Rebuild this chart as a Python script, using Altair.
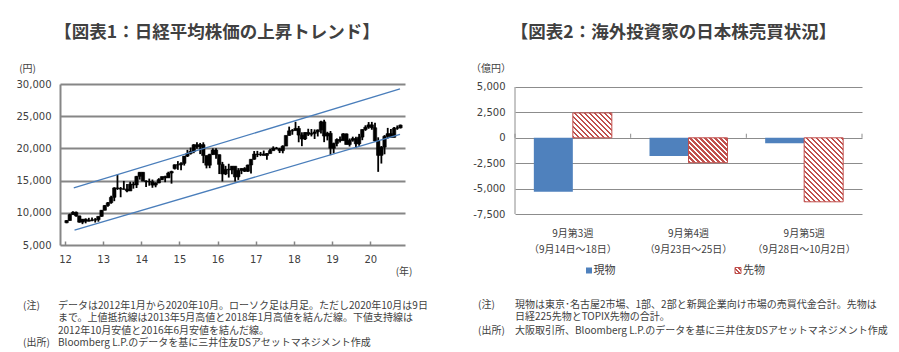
import math
import altair as alt
import pandas as pd

# ---------------- Chart 1: Nikkei 225 monthly candles (Jan 2012 - Oct 2020) ----------------
opens = [
    8455, 8803, 9723, 10084, 9521, 8543, 9007, 8695, 8840, 8870, 8928, 9446,
    10395, 11139, 11559, 12398, 13861, 13775, 13677, 13668, 13389, 14456, 14328, 15662,
    16291, 14915, 14841, 14828, 14304, 14632, 15162, 15621, 15425, 16174, 16860, 17460,
    17451, 17674, 18798, 19207, 19520, 20563, 20236, 20585, 18890, 17388, 19083, 19747,
    19034, 17518, 16027, 16759, 16666, 17235, 15576, 16569, 16887, 16450, 17425, 18308,
    19114, 19041, 19119, 18909, 19197, 19651, 20033, 19925, 19646, 20356, 22012, 22725,
    22765, 23098, 22068, 21454, 22468, 22202, 22305, 22554, 22865, 24120, 21920, 22351,
    20015, 20773, 21385, 21206, 22259, 20601, 21276, 21522, 20704, 21756, 22927, 23294,
    23657, 23205, 21143, 18917, 20194, 21878, 22288, 21710, 23140, 23185,
]
highs = [
    8860, 9866, 10255, 10190, 9536, 9034, 9136, 9222, 9288, 9180, 9460, 10433,
    11191, 11662, 12650, 13964, 15942, 14000, 14953, 14466, 14817, 14799, 15727, 16320,
    16321, 15060, 15312, 15164, 14740, 15376, 15646, 15759, 16378, 16533, 17520, 18030,
    17850, 18826, 19778, 20133, 20655, 20953, 20851, 20947, 18890, 19156, 20012, 20012,
    19034, 17905, 17291, 17613, 17251, 17235, 16938, 16919, 17081, 17474, 18308, 19592,
    19615, 19449, 19668, 19289, 19961, 20318, 20230, 20080, 20481, 22012, 23382, 23000,
    24129, 23486, 22502, 22515, 23050, 23011, 22949, 22939, 24286, 24448, 22583, 22698,
    20892, 21556, 21860, 22362, 22307, 21543, 21823, 21792, 22255, 22974, 23591, 24092,
    24115, 23995, 21719, 20365, 22062, 23185, 23018, 23338, 23564, 23700,
]
lows = [
    8378, 8775, 9705, 9388, 8467, 8238, 8365, 8656, 8679, 8488, 8619, 9380,
    10380, 10926, 11407, 11805, 13556, 12415, 13593, 13188, 13389, 13748, 13853, 15149,
    14914, 13995, 14203, 13885, 13964, 14600, 15083, 14753, 15400, 14529, 16720, 16672,
    16592, 17335, 18664, 19034, 19258, 19954, 19115, 17714, 16901, 16931, 18963, 18410,
    16017, 14865, 15857, 15471, 15975, 14864, 15107, 16005, 16343, 16353, 16111, 18236,
    18650, 18805, 18909, 18224, 19196, 19651, 19868, 19280, 19239, 20356, 21972, 22119,
    22765, 20950, 20347, 21300, 21931, 21859, 21462, 21851, 22307, 20971, 21243, 18948,
    19241, 20315, 20911, 21206, 20601, 20289, 21046, 20110, 20405, 21276, 22726, 23044,
    22892, 21082, 16358, 17646, 19084, 21529, 21710, 21710, 22886, 23096,
]
closes = [
    8803, 9723, 10084, 9521, 8543, 9007, 8695, 8840, 8870, 8928, 9446, 10395,
    11139, 11559, 12398, 13861, 13775, 13677, 13668, 13389, 14456, 14328, 15662, 16291,
    14915, 14841, 14828, 14304, 14632, 15162, 15621, 15425, 16174, 16414, 17460, 17451,
    17674, 18798, 19207, 19520, 20563, 20236, 20585, 18890, 17388, 19083, 19747, 19034,
    17518, 16027, 16759, 16666, 17235, 15576, 16569, 16887, 16450, 17425, 18308, 19114,
    19041, 19119, 18909, 19197, 19651, 20033, 19925, 19646, 20356, 22012, 22725, 22765,
    23098, 22068, 21454, 22468, 22202, 22305, 22554, 22865, 24120, 21920, 22351, 20015,
    20773, 21385, 21206, 22259, 20601, 21276, 21522, 20704, 21756, 22927, 23294, 23657,
    23205, 21143, 18917, 20194, 21878, 22288, 21710, 23140, 23185, 23620,
]
first_year = 2012
year_ticks = [2012, 2013, 2014, 2015, 2016, 2017, 2018, 2019, 2020]
price_ticks = [5000, 10000, 15000, 20000, 25000, 30000]

# trend lines (upper resistance / lower support)
trend_name = ["upper", "upper", "lower", "lower"]
trend_t = [2012.23, 2020.78, 2012.25, 2020.78]
trend_v = [13860, 29230, 7320, 22160]

# ---------------- Chart 2: foreign investors' net trading ----------------
week_line1 = ["9月第3週", "9月第4週", "9月第5週"]
week_line2 = ["（9月14日～18日）", "（9月23日～25日）", "（9月28日～10月2日）"]
genbutsu = [-5300, -1800, -530]   # 現物
sakimono = [2450, -2450, -6300]   # 先物
value_ticks = [-7500, -5000, -2500, 0, 2500, 5000]

notes1 = [
    "データは2012年1月から2020年10月。ローソク足は月足。ただし2020年10月は9日",
    "まで。上値抵抗線は2013年5月高値と2018年1月高値を結んだ線。下値支持線は",
    "2012年10月安値と2016年6月安値を結んだ線。",
]
source1 = "Bloomberg L.P.のデータを基に三井住友DSアセットマネジメント作成"
notes2 = [
    "現物は東京･名古屋2市場、1部、2部と新興企業向け市場の売買代金合計。先物は",
    "日経225先物とTOPIX先物の合計。",
]
source2 = "大阪取引所、Bloomberg L.P.のデータを基に三井住友DSアセットマネジメント作成"

JP = "Noto Sans CJK JP"
NUM = "DejaVu Sans"
TXT = "#404040"
GRID1 = "#868686"
GRID2 = "#8c8c8c"
BLUE = "#4f81bd"
RED = "#c0504d"
LINE_BLUE = "#4a7ebb"

one = pd.DataFrame({"k": [0]})


def label(text, x, y, size=10, align="left", bold=False, font=JP, color=TXT):
    return alt.Chart(one).mark_text(
        text=text, font=font, fontSize=size, align=align, baseline="middle",
        fontWeight="bold" if bold else "normal", color=color,
    ).encode(x=alt.value(x), y=alt.value(y))


# ---------------- build chart 1 ----------------
W1, H1 = 345, 161
n = len(closes)
candles = pd.DataFrame({
    "t": [first_year + i / 12 + 1 / 24 for i in range(n)],
    "open": opens, "high": highs, "low": lows, "close": closes,
})
trend = pd.DataFrame({"name": trend_name, "t": trend_t, "v": trend_v})

xs1 = alt.Scale(domain=[2012, 2020.78], nice=False, zero=False)
ys1 = alt.Scale(domain=[5000, 30000], nice=False, zero=False)

x_axis1 = alt.Axis(values=year_ticks, labelExpr="'' + (datum.value - 2000)", orient="bottom",
                   offset=-4, tickSize=4, tickColor=GRID1, tickWidth=1.5, domain=False,
                   grid=False, labelPadding=9, labelFont=NUM, labelFontSize=10,
                   labelColor=TXT, title=None)
y_axis1 = alt.Axis(values=price_ticks, labelExpr="format(datum.value, ',')", grid=True,
                   gridColor=GRID1, gridWidth=2,
                   domain=True, domainColor=GRID1, domainWidth=2, ticks=False,
                   labelPadding=9, labelFont=NUM, labelFontSize=10, labelColor=TXT, title=None)

anchor = alt.Chart(one).mark_rect(opacity=0).encode(
    x=alt.value(-60), x2=alt.value(839), y=alt.value(-84), y2=alt.value(268))

wicks = alt.Chart(candles).mark_rule(color="black", strokeWidth=1.8).encode(
    x=alt.X("t:Q", scale=xs1, axis=x_axis1),
    y=alt.Y("low:Q", scale=ys1, axis=y_axis1),
    y2="high:Q",
)
bodies = alt.Chart(candles).mark_bar(size=3.4, color="black", stroke="black", strokeWidth=0.6).encode(
    x=alt.X("t:Q", scale=xs1, axis=x_axis1),
    y=alt.Y("open:Q", scale=ys1, axis=y_axis1),
    y2="close:Q",
)
lines = alt.Chart(trend).mark_line(color=LINE_BLUE, strokeWidth=1.3).encode(
    x=alt.X("t:Q", scale=xs1, axis=x_axis1),
    y=alt.Y("v:Q", scale=ys1, axis=y_axis1),
    detail="name:N",
)

left_layers = [anchor, wicks, bodies, lines,
               label("【図表1：日経平均株価の上昇トレンド】", 157, -51, size=17.5, align="center", bold=True),
               label("(円)", -32.5, -15, size=10, align="center"),
               label("(年)", 344, 188, size=10, align="center"),
               label("(注)", -37, 221.7, size=10)]
note_y1 = [221.7, 234.3, 246.7]
for txt, yy in zip(notes1, note_y1):
    left_layers.append(label(txt, -2, yy, size=10))
left_layers.append(label("(出所)", -37, 258.7, size=10))
left_layers.append(label(source1, -2, 258.7, size=10))

left = alt.layer(*left_layers).properties(width=W1, height=H1)

# ---------------- build chart 2 ----------------
W2, H2 = 347, 130
ymax2 = 5295
ymin2 = -7500
px_per_unit = H2 / (ymax2 - ymin2)
cats = [a + "|" + b for a, b in zip(week_line1, week_line2)]
kinds = ["現物", "先物"]

bars = pd.DataFrame({
    "week": cats * 2,
    "kind": [kinds[0]] * 3 + [kinds[1]] * 3,
    "value": genbutsu + sakimono,
})

xs2 = alt.Scale(domain=cats, paddingInner=0, paddingOuter=0)
xo2 = alt.Scale(domain=kinds, paddingInner=0, paddingOuter=0.483)
ys2 = alt.Scale(domain=[ymin2, ymax2], nice=False, zero=False)
BAR_W = (W2 / 3) / (2 + 2 * 0.483)


def hatch(w, h, period=5.0, c1=RED, c2="#ffffff"):
    k = (w + h) / (w * w + h * h)
    periods = (w + h) / period
    stops = []
    i = 0
    while i / periods < 1:
        a = i / periods
        b = min((i + 0.5) / periods, 1)
        e = min((i + 1) / periods, 1)
        stops += [{"offset": a, "color": c1}, {"offset": b, "color": c1},
                  {"offset": b, "color": c2}, {"offset": e, "color": c2}]
        i += 1
    return {"gradient": "linear", "x1": 0, "y1": 1, "x2": k * w, "y2": 1 - k * h,
            "stops": stops}


x_axis_labels = alt.Axis(orient="bottom", labelExpr="split(datum.label, '|')", ticks=False,
                         domain=False, grid=False, labelPadding=14, labelFont=JP,
                         labelFontSize=10, labelLineHeight=16, labelColor=TXT, title=None,
                         labelAngle=0)
y_axis2 = alt.Axis(values=value_ticks, labelExpr="replace(format(datum.value, ','), '\u2212', '-')",
                   grid=True, gridColor=GRID2, gridWidth=1, domain=False, ticks=False,
                   labelPadding=10, labelFont=NUM, labelFontSize=10, labelColor=TXT, title=None)

spot = alt.Chart(bars).transform_filter(alt.datum.kind == kinds[0]).mark_bar(color=BLUE).encode(
    x=alt.X("week:N", scale=xs2, axis=x_axis_labels, sort=cats),
    xOffset=alt.XOffset("kind:N", scale=xo2),
    y=alt.Y("value:Q", scale=ys2, axis=y_axis2),
    y2=alt.datum(0),
)
right_layers = [spot]
for c, v in zip(cats, sakimono):
    hpx = abs(v) * px_per_unit
    right_layers.append(
        alt.Chart(bars).transform_filter((alt.datum.kind == kinds[1]) & (alt.datum.week == c))
        .mark_bar(fill=hatch(BAR_W, hpx), stroke=RED, strokeWidth=1)
        .encode(
            x=alt.X("week:N", scale=xs2, axis=None, sort=cats),
            xOffset=alt.XOffset("kind:N", scale=xo2),
            y=alt.Y("value:Q", scale=ys2, axis=y_axis2),
            y2=alt.datum(0),
        )
    )
# small category-boundary ticks standing on the zero line
weeks_df = pd.DataFrame({"week": cats})
right_layers.append(
    alt.Chart(weeks_df).mark_rule(color=GRID2, strokeWidth=1).encode(
        x=alt.X("week:N", scale=xs2, axis=None, sort=cats, bandPosition=0),
        y=alt.datum(0, scale=ys2, axis=y_axis2),
        y2=alt.datum(400),
    )
)
right_layers.append(
    alt.Chart(one).mark_rule(color=GRID2, strokeWidth=1).encode(
        x=alt.value(W2), y=alt.datum(0, scale=ys2, axis=y_axis2), y2=alt.datum(400))
)
right_layers.append(
    alt.Chart(one).mark_rule(color=GRID2, strokeWidth=1).encode(
        x=alt.value(0), y=alt.datum(5000, scale=ys2, axis=y_axis2), y2=alt.datum(-7500))
)
# legend
right_layers.append(alt.Chart(one).mark_rect(color=BLUE).encode(
    x=alt.value(71), x2=alt.value(77), y=alt.value(183.5), y2=alt.value(189.5)))
right_layers.append(label("現物", 78.5, 186.5, size=11))
right_layers.append(alt.Chart(one).mark_rect(fill=hatch(6, 6, period=4), stroke=RED, strokeWidth=1).encode(
    x=alt.value(220), x2=alt.value(226), y=alt.value(183.5), y2=alt.value(189.5)))
right_layers.append(label("先物", 228, 186.5, size=11))
# titles & notes
right_layers.append(label("【図表2：海外投資家の日本株売買状況】", 158.5, -51, size=17.5, align="center", bold=True))
right_layers.append(label("（億円）", -24, -15, size=10, align="center"))
right_layers.append(label("(注)", -37, 221, size=10))
for txt, yy in zip(notes2, [221, 233]):
    right_layers.append(label(txt, 0, yy, size=10))
right_layers.append(label("(出所)", -37, 247, size=10))
right_layers.append(label(source2, 0, 247, size=10))

right = alt.layer(*right_layers).resolve_axis(x="independent").properties(width=W2, height=H2)

chart = alt.hconcat(left, right, spacing=110, bounds="flush").properties(
    padding=0, autosize=alt.AutoSizeParams(type="pad")
).configure_view(stroke=None)

chart.save("out.html", embed_options={"renderer": "svg", "actions": False})
